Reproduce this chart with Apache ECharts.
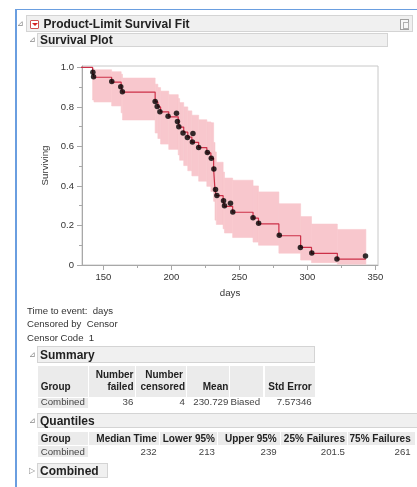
<!DOCTYPE html>
<html><head><meta charset="utf-8">
<script src="https://cdn.jsdelivr.net/npm/echarts@6/dist/echarts.min.js"></script>
<style>
html,body{margin:0;padding:0;width:417px;height:487px;overflow:hidden;background:#fff;font-family:"Liberation Sans",Arial,sans-serif;color:#222;}
#chart{position:absolute;left:0;top:0;width:417px;height:487px;}
.t{position:absolute;white-space:pre;line-height:12px;height:12px;}
.box{position:absolute;box-sizing:border-box;}
</style></head>
<body>
<div id="chart"></div>
<div id="ui"></div>
<script>
// ---------------- data ----------------
const kmTime = [0, 142, 143, 156, 163, 164, 188, 190, 192, 198, 205, 206, 209, 212, 215, 220, 226, 229, 231, 232, 233, 238, 239, 245, 260, 264, 279, 295, 303, 322, 343];
const kmSurv = [1.0, 0.975, 0.95, 0.925, 0.90, 0.875, 0.825, 0.80, 0.775, 0.75, 0.724, 0.698, 0.672, 0.647, 0.621, 0.594, 0.567, 0.540, 0.486, 0.378, 0.351, 0.324, 0.297, 0.267, 0.237, 0.208, 0.148, 0.089, 0.059, 0.030, 0.030];

const dotTime = [142.2, 142.7, 156.1, 162.7, 163.9, 188, 189.5, 191.5, 197.5, 203.7, 204.4, 205.4, 208.5, 211.7, 215.4, 215.8, 220, 226.4, 229.3, 231.2, 232.4, 233.4, 238.3, 239, 243.4, 245.1, 260, 264.1, 279.3, 294.8, 303.2, 321.7, 342.7];
const dotSurv = [0.975, 0.953, 0.928, 0.902, 0.877, 0.827, 0.802, 0.776, 0.753, 0.768, 0.726, 0.700, 0.668, 0.645, 0.623, 0.665, 0.594, 0.569, 0.540, 0.486, 0.382, 0.352, 0.325, 0.300, 0.312, 0.268, 0.239, 0.211, 0.150, 0.089, 0.061, 0.030, 0.045];

const bandStart = [142, 143, 156, 163, 164, 188, 190, 192, 198, 205, 206, 209, 212, 215, 220, 226, 229, 231, 232, 233, 238, 239, 245, 260, 264, 279, 295, 303, 322];
const bandEnd   = [143, 156, 163, 164, 188, 190, 192, 198, 205, 206, 209, 212, 215, 220, 226, 229, 231, 232, 233, 238, 239, 245, 260, 264, 279, 295, 303, 322, 343];
const bandLow   = [0.835, 0.825, 0.805, 0.770, 0.734, 0.668, 0.640, 0.612, 0.585, 0.557, 0.530, 0.503, 0.477, 0.451, 0.424, 0.398, 0.372, 0.322, 0.227, 0.205, 0.183, 0.162, 0.139, 0.116, 0.100, 0.060, 0.025, 0.012, 0.004];
const bandHigh  = [0.996, 0.988, 0.978, 0.965, 0.946, 0.915, 0.898, 0.880, 0.862, 0.842, 0.822, 0.800, 0.780, 0.758, 0.735, 0.724, 0.720, 0.620, 0.572, 0.520, 0.470, 0.440, 0.429, 0.400, 0.370, 0.310, 0.245, 0.207, 0.180];

const xTicks = [150, 200, 250, 300, 350];
const xMinorTicks = [175, 225, 275, 325];
const yTicks = [0, 0.2, 0.4, 0.6, 0.8, 1.0];
const yTickLabels = ['0', '0.2', '0.4', '0.6', '0.8', '1.0'];
const yMinorTicks = [0.1, 0.3, 0.5, 0.7, 0.9];

const summaryHead = ['Group', 'Number failed', 'Number censored', 'Mean', '', 'Std Error'];
const summaryRow = ['Combined', '36', '4', '230.729', 'Biased', '7.57346'];
const quantHead = ['Group', 'Median Time', 'Lower 95%', 'Upper 95%', '25% Failures', '75% Failures'];
const quantRow = ['Combined', '232', '213', '239', '201.5', '261'];

// ---------------- page chrome ----------------
const ui = document.getElementById('ui');
function box(l, t, w, h, css) {
  const d = document.createElement('div'); d.className = 'box';
  d.style.cssText += `left:${l}px;top:${t}px;width:${w}px;height:${h}px;` + (css || '');
  ui.appendChild(d); return d;
}
function txt(s, x, cy, opt) {
  opt = opt || {};
  const d = document.createElement('div'); d.className = 't';
  d.textContent = s;
  const fs = opt.size || 9.7;
  d.style.fontSize = fs + 'px';
  d.style.top = (cy - 6) + 'px';
  if (opt.bold) d.style.fontWeight = 'bold';
  d.style.color = opt.color || '#222';
  if (opt.right) { d.style.right = (417 - x) + 'px'; d.style.textAlign = 'right'; }
  else d.style.left = x + 'px';
  ui.appendChild(d); return d;
}
function tri(x, cy, ch) { txt(ch || '\u22BF', x, cy, {size: 8, color: '#8a8a8a'}); }

// blue frame
box(15, 9, 402, 1, 'background:#6a9ee0;');
box(15, 9, 1.5, 478, 'background:#6a9ee0;');

// Product-Limit header
box(26, 15, 387, 17, 'background:#f0f0f0;border:1px solid #d4d4d4;');
tri(16.5, 23.5);
const rb = box(29.5, 19.5, 9.5, 9.5, 'background:#fff;border:1px solid #d05050;border-radius:1px;');
rb.innerHTML = '<div style="position:absolute;left:1.5px;top:2.5px;width:0;height:0;border-left:3px solid transparent;border-right:3px solid transparent;border-top:3.5px solid #d42020;"></div>';
txt('Product-Limit Survival Fit', 43.5, 23.5, {bold: true, size: 12});
const ic = box(400, 18.5, 9, 11, 'border:1px solid #a0a0a0;background:#f8f8f8;');
ic.innerHTML = '<div style="position:absolute;left:1.5px;top:2px;width:4px;height:5px;border:1px solid #b0b0b0;"></div>';

// Survival Plot header
box(37, 33, 351, 14, 'background:#f0f0f0;border:1px solid #d4d4d4;');
tri(28.5, 39.5);
txt('Survival Plot', 40, 40, {bold: true, size: 12});

// notes
txt('Time to event:  days', 27, 310.5, {size: 9.6, color: '#333'});
txt('Censored by  Censor', 27, 324, {size: 9.6, color: '#333'});
txt('Censor Code  1', 27, 337.5, {size: 9.6, color: '#333'});

// Summary
box(37, 346, 278, 17, 'background:#f0f0f0;border:1px solid #d4d4d4;');
tri(28.5, 355);
txt('Summary', 40, 355, {bold: true, size: 12});
const sCells = [[38, 88], [89, 135], [136, 186], [187, 229], [230, 263], [265, 315]];
sCells.forEach(c => box(c[0], 366, c[1] - c[0], 31, 'background:#ebebeb;'));
box(38, 398, 50, 9.5, 'background:#ebebeb;');
txt('Number', 133.5, 375, {bold: true, size: 10, right: true});
txt('Number', 183, 375, {bold: true, size: 10, right: true});
txt(summaryHead[0], 40.7, 386.5, {bold: true, size: 10});
txt('failed', 133.5, 386.5, {bold: true, size: 10, right: true});
txt('censored', 185, 386.5, {bold: true, size: 10, right: true});
txt(summaryHead[3], 228.3, 386.5, {bold: true, size: 10, right: true});
txt(summaryHead[5], 311.7, 386.5, {bold: true, size: 10, right: true});
txt(summaryRow[0], 40.7, 402, {color: '#444'});
txt(summaryRow[1], 133.3, 402, {right: true, color: '#444'});
txt(summaryRow[2], 185, 402, {right: true, color: '#444'});
txt(summaryRow[3], 228.3, 402, {right: true, color: '#444'});
txt(summaryRow[4], 230.5, 402, {color: '#444'});
txt(summaryRow[5], 311.7, 402, {right: true, color: '#444'});

// Quantiles
box(37, 413, 380, 14.5, 'background:#f0f0f0;border:1px solid #d4d4d4;border-right:none;');
tri(28.5, 420.5);
txt('Quantiles', 40, 420.5, {bold: true, size: 12});
const qCells = [[38, 88], [89, 159], [160, 217], [218, 280], [281, 347], [348, 415]];
const qRight = [0, 156.7, 215, 276.7, 345, 410.7];
qCells.forEach(c => box(c[0], 432, c[1] - c[0], 13, 'background:#ebebeb;'));
box(38, 446, 50, 11, 'background:#ebebeb;');
quantHead.forEach((h, i) => {
  if (i === 0) txt(h, 40.7, 439, {bold: true, size: 10});
  else txt(h, qRight[i], 439, {bold: true, size: 10, right: true});
});
quantRow.forEach((v, i) => {
  if (i === 0) txt(v, 40.7, 451.5, {color: '#444'});
  else txt(v, qRight[i], 451.5, {right: true, color: '#444'});
});

// Combined
box(37, 463, 71, 15, 'background:#f0f0f0;border:1px solid #d4d4d4;');
txt('\u25B7', 28.5, 470.5, {size: 8, color: '#8a8a8a'});
txt('Combined', 40, 471, {bold: true, size: 12});

// ---------------- chart ----------------
const chart = echarts.init(document.getElementById('chart'), null, {renderer: 'canvas'});
const axisCol = '#a8a8a8';
const labelStyle = {color: '#333', fontSize: 9.5, fontFamily: 'Liberation Sans'};
const X_MIN = 134.2, X_MAX = 351.9, Y_MIN = 0, Y_MAX = 1.007;
chart.setOption({
  animation: false,
  backgroundColor: 'transparent',
  grid: {left: 82, top: 66, width: 296, height: 199, show: true, borderColor: '#c8c8c8', borderWidth: 1, backgroundColor: '#fff'},
  xAxis: [{
    type: 'value', min: X_MIN, max: X_MAX,
    name: 'days', nameLocation: 'middle', nameGap: 23,
    nameTextStyle: {color: '#333', fontSize: 9.7, fontFamily: 'Liberation Sans'},
    axisLine: {show: true, onZero: false, lineStyle: {color: axisCol}},
    axisTick: {show: true, length: 5, customValues: xTicks, lineStyle: {color: axisCol}},
    axisLabel: Object.assign({customValues: xTicks, margin: 7}, labelStyle),
    splitLine: {show: false}
  }, {
    type: 'value', min: X_MIN, max: X_MAX, position: 'bottom',
    axisLine: {show: false, onZero: false},
    axisTick: {show: true, length: 3, customValues: xMinorTicks, lineStyle: {color: axisCol}},
    axisLabel: {show: false}, splitLine: {show: false}
  }],
  yAxis: [{
    type: 'value', min: Y_MIN, max: Y_MAX,
    name: 'Surviving', nameLocation: 'middle', nameGap: 31, nameRotate: 90,
    nameTextStyle: {color: '#333', fontSize: 9.7, fontFamily: 'Liberation Sans'},
    axisLine: {show: true, onZero: false, lineStyle: {color: axisCol}},
    axisTick: {show: true, length: 5, customValues: yTicks, lineStyle: {color: axisCol}},
    axisLabel: Object.assign({customValues: yTicks, margin: 8, formatter: (v, i) => yTickLabels[yTicks.indexOf(v)] ?? yTickLabels[i]}, labelStyle),
    splitLine: {show: false}
  }, {
    type: 'value', min: Y_MIN, max: Y_MAX, position: 'left',
    axisLine: {show: false, onZero: false},
    axisTick: {show: true, length: 3, customValues: yMinorTicks, lineStyle: {color: axisCol}},
    axisLabel: {show: false}, splitLine: {show: false}
  }],
  series: [{
    type: 'custom', z: 1, clip: true,
    renderItem: (params, api) => {
      const p0 = api.coord([api.value(0), api.value(3)]);
      const p1 = api.coord([api.value(1), api.value(2)]);
      return {type: 'rect', shape: {x: p0[0], y: p0[1], width: p1[0] - p0[0], height: p1[1] - p0[1]},
        style: {fill: '#f8c7cd', stroke: '#f8c7cd', lineWidth: 0.6}};
    },
    encode: {x: [0, 1], y: [2, 3]},
    data: bandStart.map((s, i) => [s, bandEnd[i], bandLow[i], bandHigh[i]])
  }, {
    type: 'line', z: 3, step: 'end', symbol: 'none', clip: true,
    lineStyle: {color: '#cc3048', width: 1.2},
    data: kmTime.map((t, i) => [t, kmSurv[i]])
  }, {
    type: 'scatter', z: 4, symbolSize: 5.5,
    itemStyle: {color: '#000'},
    data: dotTime.map((t, i) => [t, dotSurv[i]])
  }]
});
</script>
</body></html>
